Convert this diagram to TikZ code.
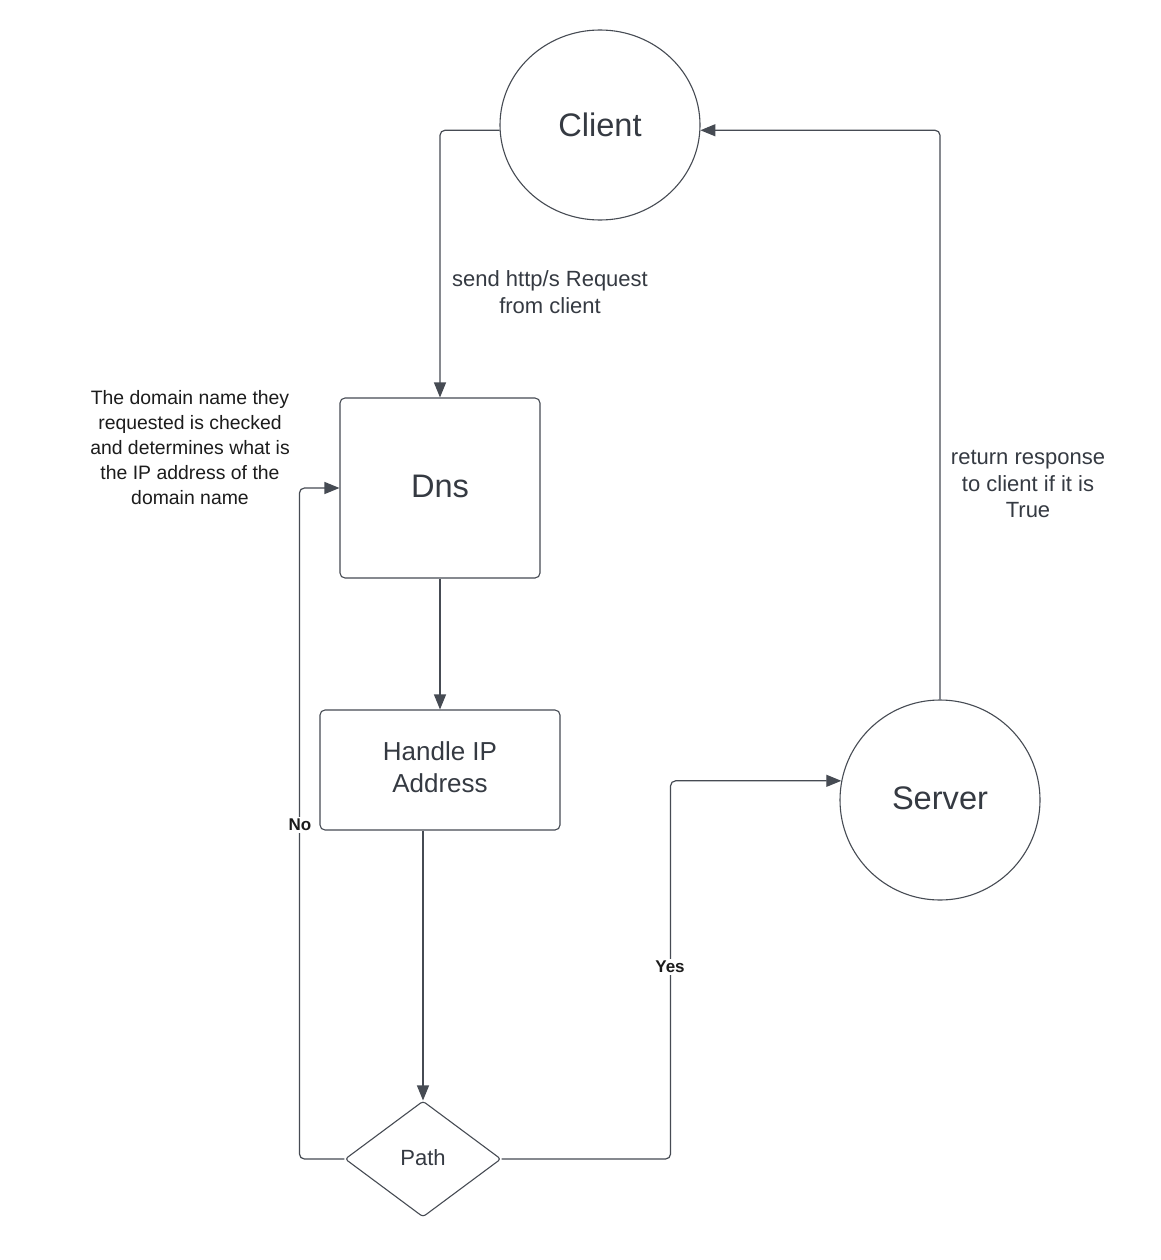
\documentclass[tikz,border=0pt]{standalone}
\usepackage{fontspec}
\setmainfont{Liberation Sans}
\usetikzlibrary{arrows.meta,shapes.geometric}
\definecolor{linec}{HTML}{464B53}
\definecolor{textc}{HTML}{353A42}
\definecolor{notec}{HTML}{1C1C1C}
\tikzset{
  shapebox/.style={draw=linec, line width=1.1pt, fill=white, text=textc, inner sep=0pt, align=center},
  procbox/.style={shapebox, rectangle, rounded corners=5pt},
  conn/.style={draw=linec, line width=1.2pt, rounded corners=5pt, -{Triangle[length=15pt,width=12pt]}},
  lbl/.style={text=textc, align=center, inner sep=0pt},
  yn/.style={text=notec, font=\bfseries\fontsize{17}{20}\selectfont, fill=white, inner sep=2pt},
}
\begin{document}
\begin{tikzpicture}[x=1pt,y=-1pt]
\useasboundingbox[fill=white] (0,0) rectangle (1160,1260);
% nodes
\node[shapebox, ellipse, minimum width=200pt, minimum height=190pt, font=\fontsize{32.6}{39}\selectfont] (client) at (600,125) {Client};
\node[procbox, minimum width=200pt, minimum height=180pt, font=\fontsize{32.6}{39}\selectfont] (dns) at (440,488) {\raisebox{4pt}{Dns}};
\node[procbox, minimum width=240pt, minimum height=120pt, font=\fontsize{26}{32}\selectfont] (handle) at (440,770) {\raisebox{5pt}{\begin{tabular}{@{}c@{}}Handle IP\\Address\end{tabular}}};
\node[shapebox, diamond, aspect=1.345, minimum width=156pt, minimum height=116pt, rounded corners=3pt, font=\fontsize{22}{26}\selectfont] (path) at (423,1159) {\raisebox{2pt}{Path}};
\node[shapebox, circle, minimum size=200pt, font=\fontsize{32.6}{39}\selectfont] (server) at (940,800) {\raisebox{3pt}{Server}};
% labels
\node[lbl, font=\fontsize{22}{26.5}\selectfont] (sendlbl) at (550,292) {send http/s Request\\from client};
\node[lbl, font=\fontsize{22}{26.5}\selectfont] (retlbl) at (1028,484) {return response\\to client if it is\\True};
\node[lbl, text=notec, font=\fontsize{19.4}{25}\selectfont] (note) at (190,448) {The domain name they\\requested is checked\\and determines what is\\the IP address of the\\domain name};
% connectors
\draw[conn] (client.183) -| (dns.north);
\draw[conn] (dns.south) -- (handle.north);
\draw[conn] (handle.south -| path.north) -- (path.north);
\draw[conn] (path.west) -- ++(-45,0) |- (dns.west);
\draw[conn] (path.east) -- ++(169,0) |- (server.169);
\draw[conn] (server.north) |- (client.357);
\node[yn] (nolbl) at (300,825) {No};
\node[yn] (yeslbl) at (670,967) {Yes};
\end{tikzpicture}
\end{document}
